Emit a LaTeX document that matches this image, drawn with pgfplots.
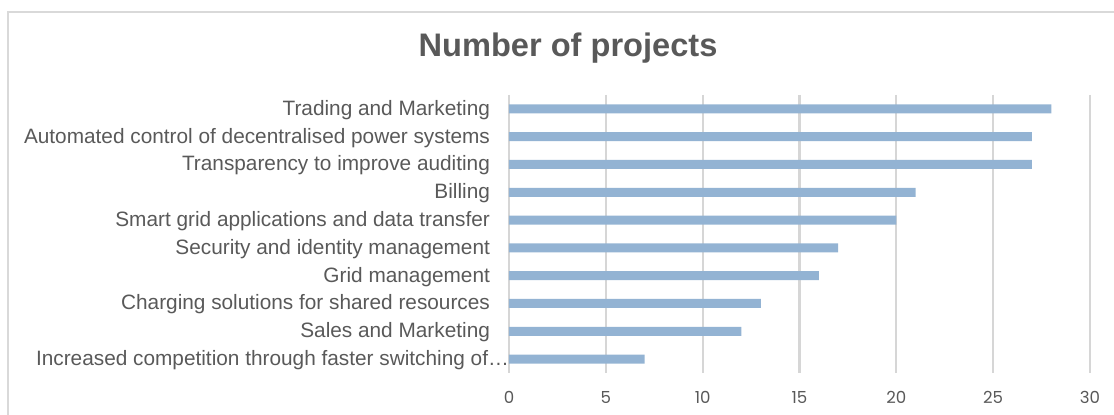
\documentclass[border=0pt]{standalone}
\usepackage{fontspec}
\setmainfont{Liberation Sans}
\newfontfamily\tickfont{Poppins}
\usepackage{pgfplots}
\pgfplotsset{compat=1.18}
\definecolor{barc}{HTML}{93B3D3}
\definecolor{txt}{HTML}{595959}
\definecolor{gridc}{HTML}{D6D6D6}
\definecolor{framec}{HTML}{D9D9D9}
\begin{document}
\begin{tikzpicture}[x=1pt,y=1pt]
\useasboundingbox (0,0) rectangle (557,207.5);
\draw[framec,line width=1pt] (4,0) -- (4,201.5) -- (557,201.5);
\node[txt,font=\bfseries\fontsize{16.3}{18}\selectfont] at (284,183.5) {Number of projects};
\begin{axis}[
  at={(254.5pt,21pt)}, anchor=south west,
  scale only axis, width=290.5pt, height=139pt,
  xmin=0, xmax=30, ymin=-0.5, ymax=9.5,
  y dir=reverse,
  xtick={0,5,...,30},
  ytick={0,...,9},
  yticklabels={Trading and Marketing,Automated control of decentralised power systems,Transparency to improve auditing,Billing,Smart grid applications and data transfer,Security and identity management,Grid management,Charging solutions for shared resources,Sales and Marketing,{Increased competition through faster switching of…\kern-9.5pt}},
  axis line style={draw=none},
  major tick length=0pt,
  /pgf/number format/assume math mode=true,
  xmajorgrids, grid style={gridc,line width=1.1pt},
  yticklabel style={txt,font=\fontsize{10.4}{12}\selectfont,anchor=east,xshift=-6pt,yshift=-0.5pt},
  xticklabel style={txt,font=\tickfont\fontsize{8.3}{10}\selectfont,yshift=-5.5pt},
  xbar, bar width=4.5pt,
]
\addplot[fill=barc,draw=none] coordinates {(28,0) (27,1) (27,2) (21,3) (20,4) (17,5) (16,6) (13,7) (12,8) (7,9)};
\end{axis}
\end{tikzpicture}
\end{document}
